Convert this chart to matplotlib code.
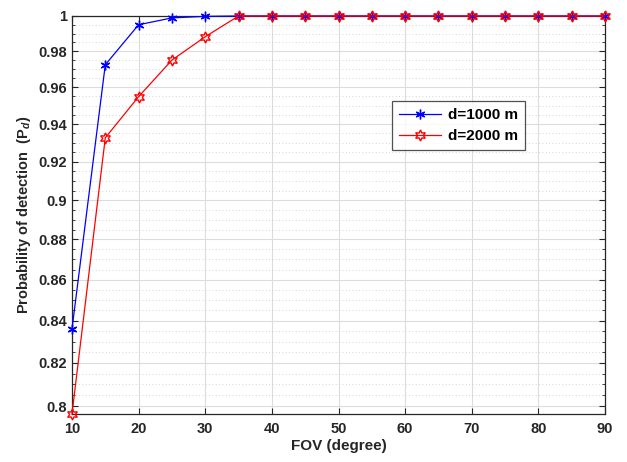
import numpy as np
import matplotlib
matplotlib.use("Agg")
import matplotlib.pyplot as plt
from matplotlib.ticker import FixedLocator, FixedFormatter, NullFormatter

plt.rcParams['font.family'] = ['Liberation Sans', 'DejaVu Sans']
plt.rcParams['font.weight'] = 'bold'
plt.rcParams['mathtext.fontset'] = 'custom'
plt.rcParams['mathtext.rm'] = 'Liberation Sans:bold'
plt.rcParams['mathtext.it'] = 'Liberation Sans:bold:italic'

fov = [10, 15, 20, 25, 30, 35, 40, 45, 50, 55, 60, 65, 70, 75, 80, 85, 90]
pd_1000 = [0.836, 0.9725, 0.995, 0.9989, 0.9998, 1, 1, 1, 1, 1, 1, 1, 1, 1, 1, 1, 1]
pd_2000 = [0.7964, 0.9327, 0.9549, 0.9751, 0.9882, 1, 1, 1, 1, 1, 1, 1, 1, 1, 1, 1, 1]
yticks = [0.8, 0.82, 0.84, 0.86, 0.88, 0.9, 0.92, 0.94, 0.96, 0.98, 1]
ytick_labels = ['0.8', '0.82', '0.84', '0.86', '0.88', '0.9', '0.92', '0.94', '0.96', '0.98', '1']

fig = plt.figure(figsize=(6.27, 4.62), dpi=100)
ax = fig.add_axes([0.1148, 0.1039, 0.8502, 0.8615])

ax.plot(fov, pd_1000, color='blue', lw=0.9, marker=(6, 2, 0), ms=7, mew=1.0,
        label='d=1000 m', clip_on=False, zorder=3)
ax.plot(fov, pd_2000, color='red', lw=0.9, marker=(6, 1, 0), ms=8, mew=1.0,
        mfc='none', label='d=2000 m', clip_on=False, zorder=3)

ax.set_yscale('log')
ax.set_ylim(0.7964, 1)
ax.set_xlim(10, 90)
ax.yaxis.set_major_locator(FixedLocator(yticks))
ax.yaxis.set_major_formatter(FixedFormatter(ytick_labels))
ax.yaxis.set_minor_locator(FixedLocator(np.arange(0.795, 1.0001, 0.005)))
ax.yaxis.set_minor_formatter(NullFormatter())
ax.set_xticks(np.arange(10, 91, 10))

ax.grid(True, which='major', color='#dcdcdc', lw=0.8)
ax.grid(True, which='minor', axis='y', color='#c8c8c8', lw=0.6, ls=(0, (1, 3)))
ax.set_axisbelow(True)

ax.tick_params(which='both', direction='in', top=True, right=True,
               colors='#262626', labelsize=10.5)
ax.tick_params(which='major', length=4)
ax.tick_params(which='minor', length=2.5)
ax.tick_params(axis='x', pad=6)
for s in ax.spines.values():
    s.set_color('#262626')
    s.set_linewidth(0.9)

ax.set_xlabel('FOV (degree)', fontsize=11, fontweight='bold', color='#262626',
              labelpad=2)
ax.set_ylabel(r'Probability of detection  ($\mathrm{P}_{d}$)', fontsize=10.5,
              fontweight='bold', color='#262626')

leg = ax.legend(loc='upper left', bbox_to_anchor=(0.6, 0.786), fancybox=False,
                edgecolor='#262626', fontsize=11, handlelength=2.8,
                handletextpad=0.4, borderpad=0.45, labelspacing=0.45,
                borderaxespad=0)
leg.get_frame().set_linewidth(0.9)

fig.savefig('out.png', dpi=100)
